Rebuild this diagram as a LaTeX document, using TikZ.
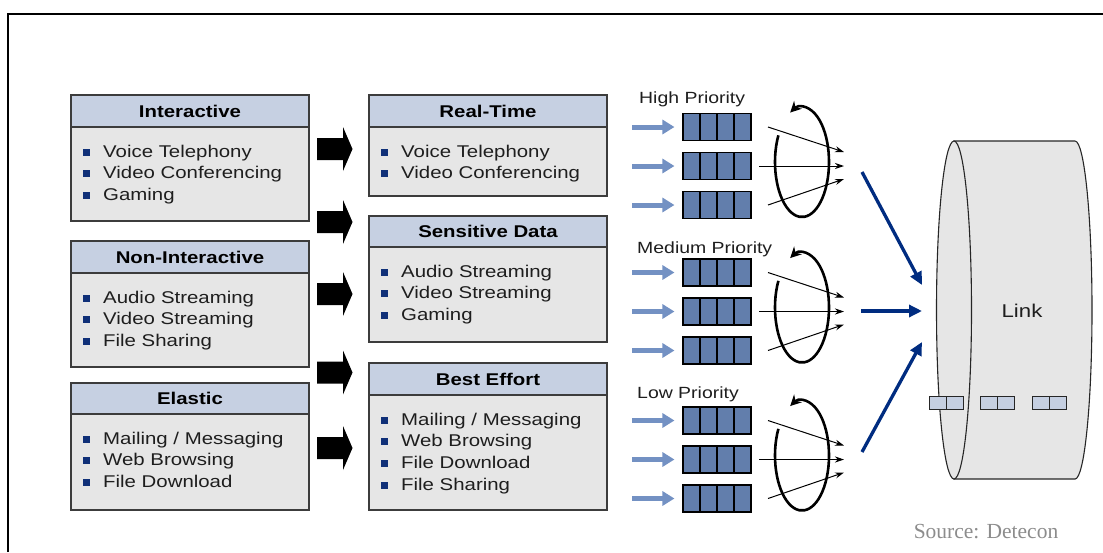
\documentclass[tikz,border=0pt]{standalone}
\usepackage{fontspec}
\setmainfont[FakeStretch=1.2]{Liberation Sans}
\newfontfamily\srcfont{Liberation Serif}
\usetikzlibrary{arrows.meta,calc}

\definecolor{headblue}{RGB}{198,208,226}
\definecolor{bodygray}{RGB}{230,230,230}
\definecolor{edgegray}{RGB}{60,60,60}
\definecolor{bulletblue}{RGB}{16,48,120}
\definecolor{queueblue}{RGB}{98,126,172}
\definecolor{feedblue}{RGB}{115,145,195}
\definecolor{navy}{RGB}{0,44,128}
\definecolor{packetblue}{RGB}{197,207,225}
\definecolor{textdark}{RGB}{30,30,30}
\definecolor{sourcegray}{RGB}{140,140,140}

\tikzset{
  boxline/.style={draw=edgegray, line width=1.3pt},
  headtext/.style={anchor=base, inner sep=0pt, text=black,
    font=\bfseries\fontsize{17}{20}\selectfont},
  itemtext/.style={anchor=base west, inner sep=0pt, text=textdark,
    font=\fontsize{17}{20}\selectfont},
  blockarrow/.style={fill=black},
  queue/.style={rectangle, draw=black, line width=1.1pt, fill=queueblue,
    minimum width=68pt, minimum height=27pt, inner sep=0pt},
  cellline/.style={draw=black, line width=1.1pt},
  feed/.style={draw=feedblue, line width=5pt, shorten >=8pt,
    -{Triangle[length=12pt,width=14pt]}},
  pick/.style={draw=black, line width=1pt, -{Stealth[length=9pt,width=6pt]}},
  turn/.style={draw=black, line width=2.6pt, -{Stealth[length=11pt,width=11pt]}},
  merge/.style={draw=navy, line width=3.3pt, -{Triangle[length=13pt,width=12pt]}},
  prio/.style={anchor=base west, inner sep=0pt, text=textdark,
    font=\fontsize{16.2}{19}\selectfont},
  linkline/.style={draw=black!85, line width=1.1pt, fill=bodygray},
  packet/.style={draw=black!85, line width=1pt, fill=packetblue},
}

% traffic class box: name, left x, top, header bottom, bottom, title, items
\newcommand\qosbox[7]{%
  \draw[boxline,fill=bodygray] (#2,#3) rectangle (#2+238,#5);
  \draw[boxline,fill=headblue] (#2,#3) rectangle (#2+238,#4);
  \node[headtext] (#1) at (#2+119,{(#3+#4)/2+6}) {#6};
  \foreach \itm [count=\k] in {#7} {
    \pgfmathsetmacro\yc{#4+23.5+(\k-1)*21.7}
    \fill[bulletblue] (#2+12,\yc-2) rectangle ++(7,7);
    \node[itemtext] (#1-\k) at (#2+32,\yc+6.5) {\itm};
  }
}

% thick black block arrow centred at height #1
\newcommand\blockarr[1]{%
  \fill[blockarrow] (317,#1-11) -- (343,#1-11) -- (343,#1-22) -- (352.5,#1)
    -- (343,#1+22) -- (343,#1+11) -- (317,#1+11) -- cycle;
}

\begin{document}
\begin{tikzpicture}[x=1pt,y=-1pt]
\useasboundingbox (0,0) rectangle (1103,552);

% frame
\draw[line width=2pt] (8,552) -- (8,14) -- (1103,14);

% application classes
\qosbox{interactive}{71}{95}{127}{221}{Interactive}{Voice Telephony,Video Conferencing,Gaming}
\qosbox{noninteractive}{71}{241}{273}{367}{Non-Interactive}{Audio Streaming,Video Streaming,File Sharing}
\qosbox{elastic}{71}{383}{414}{510}{Elastic}{Mailing / Messaging,Web Browsing,File Download}

% service classes
\qosbox{realtime}{369}{95}{127}{196}{Real-Time}{Voice Telephony,Video Conferencing}
\qosbox{sensitive}{369}{216}{247}{342}{Sensitive Data}{Audio Streaming,Video Streaming,Gaming}
\qosbox{besteffort}{369}{363}{395}{510}{Best Effort}{Mailing / Messaging,Web Browsing,File Download,File Sharing}

% mapping arrows
\blockarr{149}
\blockarr{222}
\blockarr{294}
\blockarr{372.5}
\blockarr{448}

% priority labels
\node[prio] (lab-hi) at (639,103) {High Priority};
\node[prio] (lab-med) at (637,253) {Medium Priority};
\node[prio] (lab-lo) at (637,398) {Low Priority};

% queues and round-robin schedulers
\foreach \g/\m in {hi/166, med/311.5, lo/459.5} {
  \foreach \r/\dy in {1/-39, 2/0, 3/39} {
    \pgfmathsetmacro\yq{\m+\dy}
    \node[queue] (q-\g-\r) at (717,\yq) {};
    \foreach \xx in {700,717,734}
      \draw[cellline] (\xx,\yq-13.5) -- (\xx,\yq+13.5);
    \coordinate (src-\g-\r) at (632,\yq);
    \draw[feed] (src-\g-\r) -- (q-\g-\r);
  }
  \pgfmathsetmacro\ya{\m-39}
  \pgfmathsetmacro\yb{\m+39}
  \pgfmathsetmacro\yt{\m-14}
  \pgfmathsetmacro\yu{\m+13}
  \coordinate (take-\g-1) at (768,\ya);
  \coordinate (take-\g-2) at (759,\m);
  \coordinate (take-\g-3) at (768,\yb);
  \coordinate (give-\g-1) at (844,\yt);
  \coordinate (give-\g-2) at (844,\m);
  \coordinate (give-\g-3) at (844,\yu);
  \pgfmathsetmacro\ye{\m-4}
  \draw[turn] (802,\ye) ++(209:27 and 55)
    arc[start angle=209, end angle=-116, x radius=27, y radius=55];
  \foreach \r in {1,2,3}
    \draw[pick] (take-\g-\r) -- (give-\g-\r);
}

% link cylinder
\draw[linkline] (954,141) -- (1075,141)
  arc[start angle=-90, end angle=90, x radius=17, y radius=169] -- (954,479) -- cycle;
\draw[linkline] (954,310) ellipse[x radius=17.5, y radius=169];
\node[font=\fontsize{18.5}{22}\selectfont, text=textdark, inner sep=0pt] (link) at (1022,311) {Link};
\foreach \px in {929,980,1032} {
  \draw[packet] (\px,396) rectangle ++(17,13);
  \draw[packet] (\px+17,396) rectangle ++(17,13);
}

% schedulers onto the link
\coordinate (sch-hi) at (862,172);
\coordinate (sch-med) at (861,311);
\coordinate (sch-lo) at (862,452);
\coordinate (in-hi) at (922,285);
\coordinate (in-med) at (922,311);
\coordinate (in-lo) at (922,342);
\draw[merge] (sch-hi) -- (in-hi);
\draw[merge] (sch-med) -- (in-med);
\draw[merge] (sch-lo) -- (in-lo);

% credit
\node[anchor=base, inner sep=0pt, text=sourcegray,
  font=\srcfont\fontsize{21.5}{24}\selectfont] (source) at (986,538) {Source: Detecon};
\end{tikzpicture}
\end{document}
